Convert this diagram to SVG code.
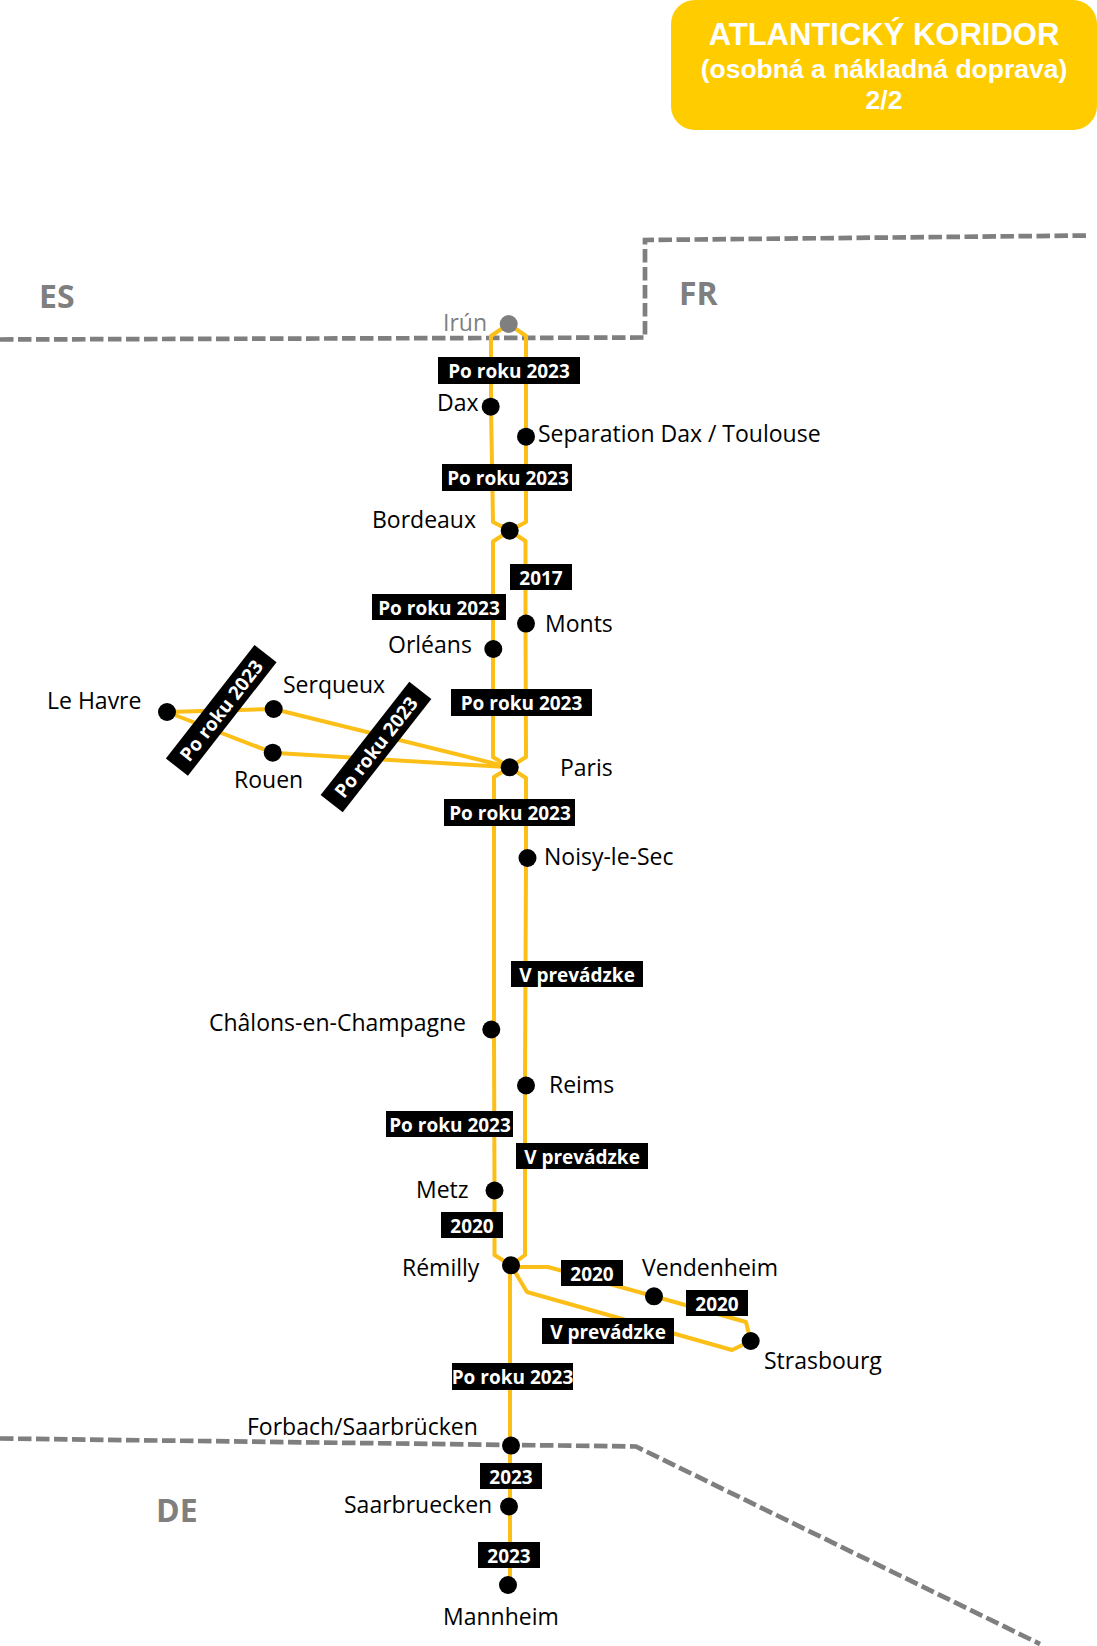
<svg xmlns="http://www.w3.org/2000/svg" width="1097" height="1646" viewBox="0 0 1097 1646">
<style>
.t{font-family:"Open Sans","Noto Sans","Liberation Sans",sans-serif;font-size:23px;fill:#000}
.b{font-family:"Open Sans","Noto Sans","Liberation Sans",sans-serif;font-size:19px;font-weight:700;fill:#fff;text-anchor:middle}
.c{font-family:"Liberation Sans",Arial,sans-serif;font-weight:700;fill:#fff;text-anchor:middle}
.cc{font-family:"Open Sans","Liberation Sans",sans-serif;font-weight:700;font-size:32px;fill:#7f7f7f}
.l{fill:none;stroke:#fcbf17;stroke-width:4;stroke-linejoin:round}
.d{fill:none;stroke:#7f7f7f;stroke-width:4.700;stroke-dasharray:13.500 4.500}
.r{fill:#000}
.n{fill:#000}
</style>
<g id="title"><rect x="671" y="0" width="426" height="130" rx="24" fill="#ffcc00"/>
<text class="c" x="884" y="45" font-size="31">ATLANTICKÝ KORIDOR</text>
<text class="c" x="884" y="78" font-size="26.500">(osobná a nákladná doprava)</text>
<text class="c" x="884" y="109" font-size="26.500">2/2</text></g>
<g id="borders">
<path class="d" d="M0 339.500L645 337.500V240L1090 235.500"/>
<path class="d" d="M0 1438.500L636 1446.500L1040 1644"/>
</g>
<text class="cc" x="39" y="308">ES</text>
<text class="cc" x="679" y="305">FR</text>
<text class="cc" x="156" y="1522">DE</text>
<g id="connectors">
<path class="l" d="M508.700 324L491 336V406.700L493 522L509.700 530.700L493 541.500V649V757L509.700 767.300L494 777V1029.500L494.500 1190.500V1255L511 1265.300"/>
<path class="l" d="M508.700 324L526 336V436.700V522L509.700 530.700L525.500 541V623.600L526 757L509.700 767.300L526 778V858L525 1085.500V1255L511 1265.300"/>
<path class="l" d="M167 712L273.700 709L509.700 767.300L272.700 752.700L167 712"/>
<path class="l" d="M510 1265.300V1585"/>
<path class="l" d="M511 1267H548L654 1296.300L746 1322L750.700 1341L732 1350L527 1292L511 1265.300"/>
</g>
<g id="label-1"><rect class="r" x="438" y="357" width="142" height="27"/><text class="b" x="509" y="378">Po roku 2023</text></g>
<g id="label-2"><rect class="r" x="442" y="464" width="130" height="27"/><text class="b" x="508" y="485">Po roku 2023</text></g>
<g id="label-3"><rect class="r" x="510" y="564" width="62" height="26"/><text class="b" x="541" y="585">2017</text></g>
<g id="label-4"><rect class="r" x="372" y="594" width="134" height="26"/><text class="b" x="439" y="615">Po roku 2023</text></g>
<g id="label-5"><rect class="r" x="451" y="689" width="141" height="27"/><text class="b" x="521.500" y="710">Po roku 2023</text></g>
<g id="label-6"><rect class="r" x="444" y="799" width="131" height="27"/><text class="b" x="510" y="820">Po roku 2023</text></g>
<g id="label-7"><rect class="r" x="511" y="961" width="132" height="26"/><text class="b" x="577" y="982">V prevádzke</text></g>
<g id="label-8"><rect class="r" x="386" y="1111" width="127" height="26"/><text class="b" x="450" y="1132">Po roku 2023</text></g>
<g id="label-9"><rect class="r" x="516" y="1143" width="132" height="26"/><text class="b" x="582" y="1164">V prevádzke</text></g>
<g id="label-10"><rect class="r" x="441" y="1212" width="62" height="26"/><text class="b" x="472" y="1233">2020</text></g>
<g id="label-11"><rect class="r" x="561" y="1260" width="62" height="26"/><text class="b" x="592" y="1281">2020</text></g>
<g id="label-12"><rect class="r" x="686" y="1290" width="62" height="26"/><text class="b" x="717" y="1311">2020</text></g>
<g id="label-13"><rect class="r" x="542" y="1318" width="132" height="26"/><text class="b" x="608" y="1339">V prevádzke</text></g>
<g id="label-14"><rect class="r" x="452" y="1363" width="121" height="27"/><text class="b" x="512.500" y="1384">Po roku 2023</text></g>
<g id="label-15"><rect class="r" x="480" y="1463" width="62" height="26"/><text class="b" x="511" y="1484">2023</text></g>
<g id="label-16"><rect class="r" x="478" y="1542" width="62" height="26"/><text class="b" x="509" y="1563">2023</text></g>
<g id="label-17" transform="rotate(-52 222 711)"><rect class="r" x="150" y="696" width="144" height="28"/><text class="b" x="222" y="717">Po roku 2023</text></g>
<g id="label-18" transform="rotate(-52 376 747)"><rect class="r" x="304" y="733" width="144" height="28"/><text class="b" x="376" y="754">Po roku 2023</text></g>
<g id="irun"><circle cx="508.700" cy="324" r="9" fill="#7f7f7f"/><text class="t" x="443" y="331" style="fill:#7f7f7f">Irún</text></g>
<g id="dax"><circle class="n" cx="490.700" cy="406.700" r="9"/><text class="t" x="437" y="411">Dax</text></g>
<g id="separation"><circle class="n" cx="526" cy="436.700" r="9"/><text class="t" x="538" y="442">Separation Dax / Toulouse</text></g>
<g id="bordeaux"><circle class="n" cx="509.700" cy="530.700" r="9"/><text class="t" x="372" y="528">Bordeaux</text></g>
<g id="monts"><circle class="n" cx="526" cy="623.600" r="9"/><text class="t" x="545" y="632">Monts</text></g>
<g id="orleans"><circle class="n" cx="493.300" cy="649" r="9"/><text class="t" x="388" y="653">Orléans</text></g>
<g id="lehavre"><circle class="n" cx="167" cy="712" r="9"/><text class="t" x="47" y="709">Le Havre</text></g>
<g id="serqueux"><circle class="n" cx="273.700" cy="709" r="9"/><text class="t" x="283" y="693">Serqueux</text></g>
<g id="rouen"><circle class="n" cx="272.700" cy="752.700" r="9"/><text class="t" x="234" y="788">Rouen</text></g>
<g id="paris"><circle class="n" cx="509.700" cy="767.300" r="9"/><text class="t" x="560" y="776">Paris</text></g>
<g id="noisy"><circle class="n" cx="527.500" cy="858" r="9"/><text class="t" x="544" y="865">Noisy-le-Sec</text></g>
<g id="chalons"><circle class="n" cx="491.300" cy="1029.500" r="9"/><text class="t" x="209" y="1031">Châlons-en-Champagne</text></g>
<g id="reims"><circle class="n" cx="526" cy="1085.500" r="9"/><text class="t" x="549" y="1093">Reims</text></g>
<g id="metz"><circle class="n" cx="494.500" cy="1190.500" r="9"/><text class="t" x="416" y="1198">Metz</text></g>
<g id="remilly"><circle class="n" cx="511" cy="1265.300" r="9"/><text class="t" x="402" y="1276">Rémilly</text></g>
<g id="vendenheim"><circle class="n" cx="654" cy="1296.300" r="9"/><text class="t" x="642" y="1276">Vendenheim</text></g>
<g id="strasbourg"><circle class="n" cx="750.700" cy="1341" r="9"/><text class="t" x="764" y="1369">Strasbourg</text></g>
<g id="forbach"><circle class="n" cx="511" cy="1445.600" r="9"/><text class="t" x="247" y="1435">Forbach/Saarbrücken</text></g>
<g id="saarbruecken"><circle class="n" cx="509" cy="1506.500" r="9"/><text class="t" x="344" y="1513">Saarbruecken</text></g>
<g id="mannheim"><circle class="n" cx="508" cy="1585" r="9"/><text class="t" x="443" y="1625">Mannheim</text></g>
</svg>
